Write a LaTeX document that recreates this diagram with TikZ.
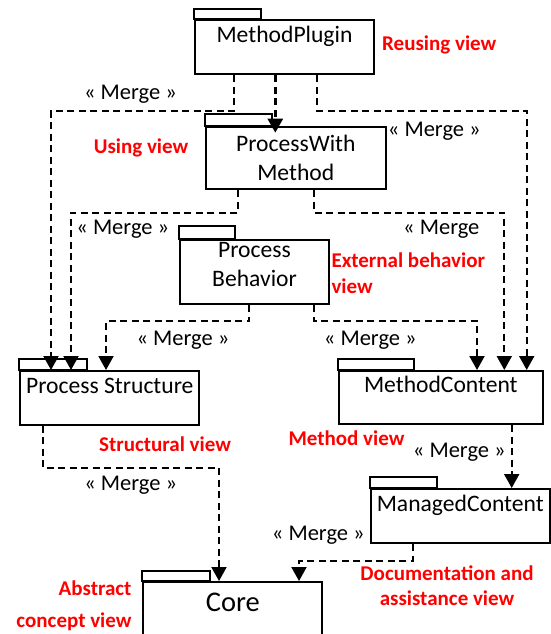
\documentclass[tikz,border=0pt]{standalone}
\usepackage{fontspec}
\setmainfont{Carlito}
\usetikzlibrary{arrows.meta}
\usetikzlibrary{positioning}

\tikzset{
  pkg/.style={draw, line width=2pt, rectangle, anchor=north west, inner sep=0pt},
  pkgtab/.style={draw, line width=2pt},
  pkgname/.style={font=\fontsize{23.6}{28.5}\selectfont, align=center, inner sep=0pt},
  view/.style={text=red, font=\bfseries\fontsize{21}{25.5}\selectfont, inner sep=0pt},
  merge/.style={font=\fontsize{22.5}{27}\selectfont, inner sep=0pt},
  dep/.style={dash pattern=on 7pt off 4.5pt, line width=2pt, -{Triangle[width=15pt,length=14pt]}},
}

\begin{document}
\begin{tikzpicture}[x=1pt,y=-1pt]
    \useasboundingbox (0,0) rectangle (550,634);
    %% packages
    \node[pkg, minimum width=179pt, minimum height=54pt] (mp) at (194,19.3) {};
    \node[pkg, minimum width=179.5pt, minimum height=62.6pt] (pwm) at (205,125.7) {};
    \node[pkg, minimum width=149pt, minimum height=64.6pt] (pb) at (179,238.7) {};
    \node[pkg, minimum width=179pt, minimum height=53.5pt] (ps) at (19.3,370) {};
    \node[pkg, minimum width=203.7pt, minimum height=53pt] (mc) at (338,370) {};
    \node[pkg, minimum width=178.5pt, minimum height=54pt] (mgc) at (370,488) {};
    \node[pkg, minimum width=179pt, minimum height=70pt] (core) at (142.3,581) {};
    % tabs
    \draw[pkgtab] (mp.north west) rectangle ++(67,-10.5);
    \draw[pkgtab] (pwm.north west) rectangle ++(67,-12);
    \draw[pkgtab] (pb.north west) rectangle ++(56,-12.5);
    \draw[pkgtab] (ps.north west) rectangle ++(68,-11);
    \draw[pkgtab] (mc.north west) rectangle ++(76,-11.3);
    \draw[pkgtab] (mgc.north west) rectangle ++(67,-10.7);
    \draw[pkgtab] (core.north west) rectangle ++(67.5,-10);
    % package names
    \node[pkgname] (mpname) at ([yshift=-17pt]mp.north) {MethodPlugin};
    \node[pkgname] (pwmname) at ([yshift=-32pt]pwm.north) {ProcessWith\\Method};
    \node[pkgname] (pbname) at ([yshift=-26pt]pb.north) {Process\\Behavior};
    \node[pkgname] (psname) at ([yshift=-16pt]ps.north) {Process Structure};
    \node[pkgname] (mcname) at ([yshift=-14pt]mc.north) {MethodContent};
    \node[pkgname] (mgcname) at ([yshift=-17pt]mgc.north) {ManagedContent};
    \node[pkgname, font=\fontsize{28.5}{34}\selectfont] (corename) at ([yshift=-21pt]core.north) {Core};

    %% merge connectors
    \draw[dep] ([xshift=40pt]mp.south west) -- ++(0,35.7) -| ([xshift=31.7pt]ps.north west);
    \draw[dep, line width=2.6pt, shorten >=-7pt] ([xshift=81.3pt]mp.south west) -- ([xshift=70.3pt]pwm.north west);
    \draw[dep] ([xshift=123.3pt]mp.south west) -- ++(0,35.7) -| ([xshift=188.7pt]mc.north west);
    \draw[dep] ([xshift=33pt]pwm.south west) -- ++(0,22.4) -| ([xshift=51.7pt]ps.north west);
    \draw[dep] ([xshift=109pt]pwm.south west) -- ++(0,22.4) -| ([xshift=166.3pt]mc.north west);
    \draw[dep] ([xshift=70pt]pb.south west) -- ++(0,16) -| ([xshift=86.7pt]ps.north west);
    \draw[dep] ([xshift=135pt]pb.south west) -- ++(0,16) -| ([xshift=139pt]mc.north west);
    \draw[dep] ([xshift=24pt]ps.south west) -- ++(0,42.8) -| ([xshift=76.7pt]core.north west);
    \draw[dep] ([xshift=173.7pt]mc.south west) -- ([xshift=141.7pt]mgc.north west);
    \draw[dep] ([xshift=42.7pt]mgc.south west) -- ++(0,16.7) -| ([xshift=156.7pt]core.north west);

    % merge labels
    \node[merge] (m1) at (130.5,94) {« Merge »};
    \node[merge] (m2) at (434.3,131.5) {« Merge »};
    \node[merge] (m3) at (122.8,229) {« Merge »};
    \node[merge] (m4) at (441.3,229) {« Merge};
    \node[merge] (m5) at (183,340) {« Merge »};
    \node[merge] (m6) at (370.3,340.5) {« Merge »};
    \node[merge] (m7) at (130.7,485.5) {« Merge »};
    \node[merge] (m8) at (459.3,452.5) {« Merge »};
    \node[merge] (m9) at (318.3,535) {« Merge »};

    % views
    \node[view, anchor=west] (reuse) at (382,45) {Reusing view};
    \node[view] (using) at (141,147.5) {Using view};
    \node[view, anchor=west, align=left] (ext) at (331.3,273) {External behavior\\view};
    \node[view] (struct) at (165,444.5) {Structural view};
    \node[view] (method) at (346.5,438) {Method view};
    \node[view, anchor=east, align=right, font=\bfseries\fontsize{21}{31.7}\selectfont] (abstr) at (131.7,606) {Abstract\\concept view};
    \node[view, align=center, font=\bfseries\fontsize{21}{24.7}\selectfont] (doc) at (447,586) {Documentation and\\assistance view};
\end{tikzpicture}
\end{document}
